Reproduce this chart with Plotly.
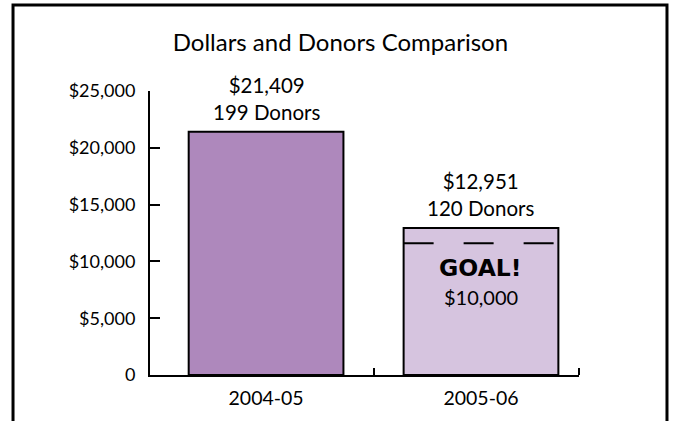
import plotly.graph_objects as go

# ---- data ----
categories = ["2004-05", "2005-06"]
dollars = [21409, 12951]
donors = [199, 120]
bar_colors = ["#AE88BC", "#D6C4DF"]
goal_amount = 10000
goal_line_level = 11600   # where the dashed goal marker is drawn
y_tickvals = [0, 5000, 10000, 15000, 20000, 25000]
y_ticktext = ["0", "$5,000", "$10,000", "$15,000", "$20,000", "$25,000"]

FONT = "Lato"
x_pos = list(range(len(categories)))
bar_w = 0.72

fig = go.Figure()
fig.add_trace(go.Bar(
    x=x_pos, y=dollars, width=bar_w,
    marker=dict(color=bar_colors, line=dict(color="black", width=2)),
    hoverinfo="skip", showlegend=False,
))

# goal dashed marker across second bar
fig.add_trace(go.Scatter(
    x=[x_pos[1] - bar_w / 2, x_pos[1] + bar_w / 2],
    y=[goal_line_level, goal_line_level],
    mode="lines", line=dict(color="black", width=2, dash="30px,30px"),
    hoverinfo="skip", showlegend=False,
))

annotations = []
for xi, d, n in zip(x_pos, dollars, donors):
    annotations.append(dict(
        x=xi, y=d, xref="x", yref="y", yanchor="bottom", yshift=6,
        text=f"${d:,}<br>{n} Donors", showarrow=False,
        font=dict(family=FONT, size=20.5, color="black"),
    ))
annotations.append(dict(
    x=x_pos[1], y=goal_line_level, xref="x", yref="y", yanchor="middle", yshift=-25,
    text="<b>GOAL!</b>", showarrow=False,
    font=dict(family="DejaVu Sans", size=23.5, color="black"),
))
annotations.append(dict(
    x=x_pos[1], y=goal_line_level, xref="x", yref="y", yanchor="middle", yshift=-54,
    text=f"${goal_amount:,}", showarrow=False,
    font=dict(family=FONT, size=20, color="black"),
))

fig.update_layout(
    width=674, height=421,
    margin=dict(l=150, r=95, t=91, b=46),
    paper_bgcolor="white", plot_bgcolor="white",
    title=dict(text="Dollars and Donors Comparison", x=0.505, xanchor="center",
               xref="container", y=0.9, yanchor="middle",
               font=dict(family=FONT, size=24, color="black")),
    annotations=annotations,
    shapes=[dict(type="rect", xref="paper", yref="paper",
                 x0=-0.3193, x1=1.2051, y0=-0.2, y1=1.3028,
                 line=dict(color="black", width=3), fillcolor="rgba(0,0,0,0)",
                 layer="above")],
    xaxis=dict(range=[-0.54, 1.456], tickvals=x_pos, ticktext=categories,
               ticks="", showline=True, linecolor="black", linewidth=2,
               showgrid=False, zeroline=False, ticklabelstandoff=5,
               tickfont=dict(family=FONT, size=19.5, color="black"),
               minor=dict(tickvals=[0.5, 1.456], ticks="inside", ticklen=7,
                          tickwidth=2, tickcolor="black", showgrid=False)),
    yaxis=dict(range=[0, 25000], tickvals=y_tickvals, ticktext=y_ticktext,
               ticks="inside", ticklen=10, tickwidth=2, tickcolor="black",
               showline=True, linecolor="black", linewidth=2,
               showgrid=False, zeroline=False, ticklabelstandoff=9,
               tickfont=dict(family=FONT, size=18, color="black")),
)

fig.write_html("out.html", config={"displayModeBar": False},
               post_script="document.body.style.margin='0';")
